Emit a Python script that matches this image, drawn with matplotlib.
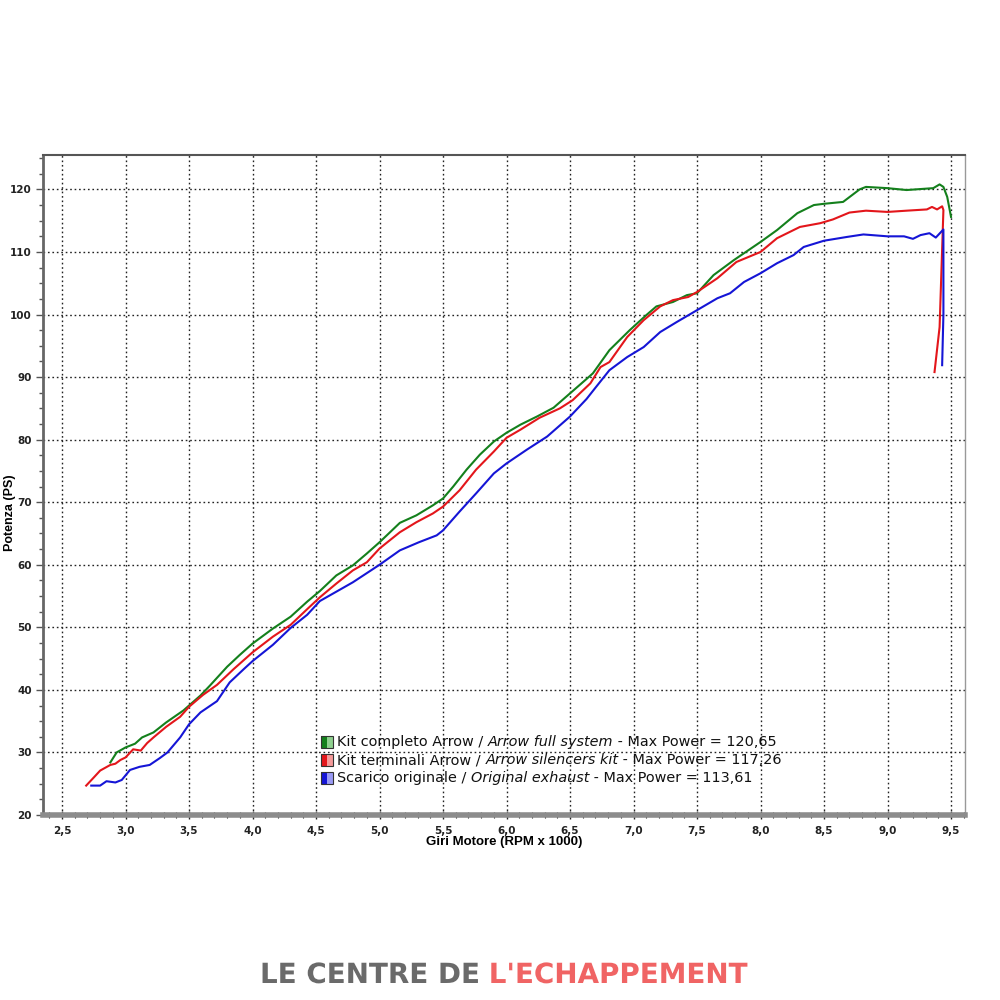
import matplotlib
matplotlib.use("Agg")
import matplotlib.pyplot as plt
from matplotlib.patches import Rectangle
from matplotlib.ticker import MultipleLocator, FuncFormatter
import matplotlib.patheffects as pe

# Kit completo Arrow (full system)
rpm_full = [2.88, 2.93, 3.00, 3.075, 3.13, 3.22, 3.32, 3.455, 3.50, 3.59,
            3.665, 3.80, 3.90, 4.00, 4.16, 4.30, 4.43, 4.53, 4.66, 4.79,
            4.90, 5.00, 5.16, 5.29, 5.42, 5.50, 5.58, 5.685, 5.79, 5.90,
            6.00, 6.11, 6.24, 6.37, 6.50, 6.63, 6.68, 6.81, 6.97, 7.10,
            7.18, 7.31, 7.42, 7.50, 7.63, 7.79, 8.00, 8.13, 8.29, 8.42,
            8.50, 8.65, 8.78, 8.83, 9.00, 9.15, 9.36, 9.41, 9.44, 9.47,
            9.50]
ps_full = [28.4, 30.0, 30.8, 31.4, 32.4, 33.2, 34.8, 36.7, 37.5, 39.1,
           40.7, 43.7, 45.6, 47.4, 49.8, 51.7, 54.1, 55.8, 58.3, 59.9,
           61.8, 63.6, 66.7, 67.9, 69.5, 70.6, 72.5, 75.2, 77.6, 79.7,
           81.1, 82.4, 83.7, 85.1, 87.4, 89.7, 90.6, 94.3, 97.5, 99.9,
           101.3, 102.0, 103.1, 103.4, 106.3, 108.7, 111.6, 113.5, 116.2, 117.5,
           117.7, 118.0, 120.0, 120.4, 120.2, 119.9, 120.2, 120.8, 120.4, 118.8,
           115.6]

# Kit terminali Arrow (silencers kit)
rpm_silencer = [2.69, 2.75, 2.80, 2.88, 2.92, 2.96, 3.00, 3.06, 3.12, 3.17,
                3.22, 3.32, 3.43, 3.50, 3.61, 3.72, 3.85, 4.00, 4.16, 4.30,
                4.43, 4.53, 4.66, 4.79, 4.90, 5.00, 5.16, 5.29, 5.42, 5.50,
                5.63, 5.76, 5.90, 6.00, 6.11, 6.26, 6.42, 6.52, 6.66, 6.74,
                6.81, 6.95, 7.08, 7.21, 7.31, 7.43, 7.50, 7.66, 7.81, 8.00,
                8.13, 8.31, 8.47, 8.57, 8.70, 8.83, 9.00, 9.15, 9.31, 9.35,
                9.39, 9.43, 9.44, 9.41, 9.37]
ps_silencer = [24.7, 26.0, 27.1, 28.0, 28.2, 28.8, 29.2, 30.5, 30.3, 31.5,
               32.4, 34.1, 35.7, 37.3, 39.2, 40.8, 43.3, 46.0, 48.5, 50.4,
               52.9, 54.8, 57.0, 59.1, 60.4, 62.6, 65.2, 66.8, 68.2, 69.3,
               71.9, 75.2, 78.1, 80.3, 81.6, 83.5, 85.0, 86.3, 89.0, 91.6,
               92.4, 96.4, 99.1, 101.3, 102.3, 102.8, 103.6, 105.8, 108.4, 110.0,
               112.2, 114.0, 114.6, 115.2, 116.3, 116.6, 116.4, 116.6, 116.8, 117.2,
               116.8, 117.3, 116.7, 98.0, 90.8]

# Scarico originale (original exhaust)
rpm_orig = [2.73, 2.80, 2.85, 2.92, 2.97, 3.035, 3.11, 3.19, 3.27, 3.33,
            3.43, 3.50, 3.59, 3.72, 3.82, 3.93, 4.00, 4.16, 4.30, 4.43,
            4.53, 4.66, 4.79, 5.00, 5.16, 5.31, 5.45, 5.50, 5.63, 5.76,
            5.90, 6.00, 6.16, 6.32, 6.50, 6.63, 6.70, 6.81, 6.95, 7.08,
            7.21, 7.34, 7.50, 7.66, 7.76, 7.87, 8.00, 8.13, 8.26, 8.34,
            8.50, 8.68, 8.81, 9.00, 9.13, 9.20, 9.26, 9.33, 9.38, 9.44,
            9.44, 9.43]
ps_orig = [24.7, 24.7, 25.4, 25.2, 25.6, 27.2, 27.7, 28.0, 29.1, 30.0,
           32.4, 34.5, 36.4, 38.2, 41.2, 43.3, 44.6, 47.2, 49.9, 52.0,
           54.2, 55.7, 57.2, 60.0, 62.3, 63.6, 64.7, 65.5, 68.5, 71.4,
           74.6, 76.2, 78.4, 80.5, 83.7, 86.5, 88.3, 91.1, 93.2, 94.8,
           97.2, 98.8, 100.7, 102.6, 103.4, 105.2, 106.6, 108.2, 109.5, 110.8,
           111.8, 112.4, 112.8, 112.5, 112.5, 112.1, 112.7, 113.0, 112.3, 113.6,
           100.0, 91.9]

series_names = ["Kit completo Arrow", "Kit terminali Arrow", "Scarico originale"]
series_names_en = ["Arrow full system", "Arrow silencers kit", "Original exhaust"]
max_power = ["120,65", "117,26", "113,61"]
colors = ["#14801c", "#e3161b", "#1515d6"]
light_colors = ["#8fd08f", "#f59a9a", "#9a9af5"]

fig = plt.figure(figsize=(10, 10), dpi=100)
ax = fig.add_axes([0.043, 0.185, 0.922, 0.66])

ax.plot(rpm_full, ps_full, color=colors[0], lw=1.5, zorder=3)
ax.plot(rpm_silencer, ps_silencer, color=colors[1], lw=1.5, zorder=3)
ax.plot(rpm_orig, ps_orig, color=colors[2], lw=1.5, zorder=3)

ax.set_xlim(2.35, 9.61)
ax.set_ylim(20, 125.5)
ax.xaxis.set_major_locator(MultipleLocator(0.5))
ax.xaxis.set_minor_locator(MultipleLocator(0.1))
ax.yaxis.set_major_locator(MultipleLocator(10))
ax.yaxis.set_minor_locator(MultipleLocator(2.5))
ax.xaxis.set_major_formatter(FuncFormatter(lambda v, p: f"{v:.1f}".replace(".", ",")))
ax.yaxis.set_major_formatter(FuncFormatter(lambda v, p: f"{v:.0f}"))

ax.grid(True, which="major", color="#222222", linestyle=(0, (1.2, 2.0)), lw=1.0)
ax.set_axisbelow(True)

ax.tick_params(axis="y", which="major", direction="out", length=5, width=1,
               color="#555555", labelsize=7.5, pad=3)
ax.tick_params(axis="y", which="minor", direction="out", length=3, width=1, color="#555555")
ax.tick_params(axis="x", which="major", direction="inout", length=6, width=1,
               color="#222222", labelsize=7.5, pad=5)
ax.tick_params(axis="x", which="minor", direction="inout", length=4, width=0.8, color="#222222")
for lab in ax.get_xticklabels() + ax.get_yticklabels():
    lab.set_fontweight("bold")
    lab.set_color("#222222")

ax.spines["left"].set_color("#666666")
ax.spines["left"].set_linewidth(2)
ax.spines["bottom"].set_color("#8c8c8c")
ax.spines["bottom"].set_linewidth(4)
ax.spines["top"].set_color("#555555")
ax.spines["top"].set_linewidth(1.5)
ax.spines["right"].set_color("#999999")
ax.spines["right"].set_linewidth(1)

fig.text(0.010, 0.487, "Potenza (PS)", family="Liberation Sans", fontweight="bold",
         fontsize=9, rotation=90, ha="center", va="center")
ax.set_xlabel("Giri Motore (RPM x 1000)", family="Liberation Sans", fontweight="bold",
              fontsize=9.5, labelpad=0)

# legend with mixed upright / italic text
row_y = [0.1106, 0.0833, 0.056]
fs = 10.4
for i in range(3):
    y = row_y[i]
    ax.add_patch(Rectangle((0.301, y - 0.0095), 0.0068, 0.019, transform=ax.transAxes,
                           facecolor=colors[i], edgecolor="none", zorder=5))
    ax.add_patch(Rectangle((0.3078, y - 0.0095), 0.0068, 0.019, transform=ax.transAxes,
                           facecolor=light_colors[i], edgecolor="none", zorder=5))
    ax.add_patch(Rectangle((0.301, y - 0.0095), 0.0136, 0.019, transform=ax.transAxes,
                           facecolor="none", edgecolor="#333333", lw=0.8, zorder=6))
    t1 = ax.text(0.319, y, series_names[i] + " / ", transform=ax.transAxes,
                 fontsize=fs, va="center", ha="left", color="#111111", zorder=6)
    t2 = ax.annotate(series_names_en[i], xycoords=t1, xy=(1, 0), va="bottom",
                     fontsize=fs, style="italic", color="#111111", zorder=6)
    ax.annotate(" - Max Power = " + max_power[i], xycoords=t2, xy=(1, 0), va="bottom",
                fontsize=fs, color="#111111", zorder=6)

# watermark
wm = dict(fontsize=20, fontweight="bold", family="DejaVu Sans", va="center",
          path_effects=[pe.withStroke(linewidth=1.0, foreground="white")])
w1 = fig.text(0.26, 0.025, "LE CENTRE DE ", color="#6a6a6a", ha="left", **wm)
fig.canvas.draw()
bb = w1.get_window_extent()
fig.text(bb.x1 / fig.bbox.width, 0.025, "L'ECHAPPEMENT", color="#f06464", ha="left", **wm)

fig.savefig("out.png", dpi=100)
